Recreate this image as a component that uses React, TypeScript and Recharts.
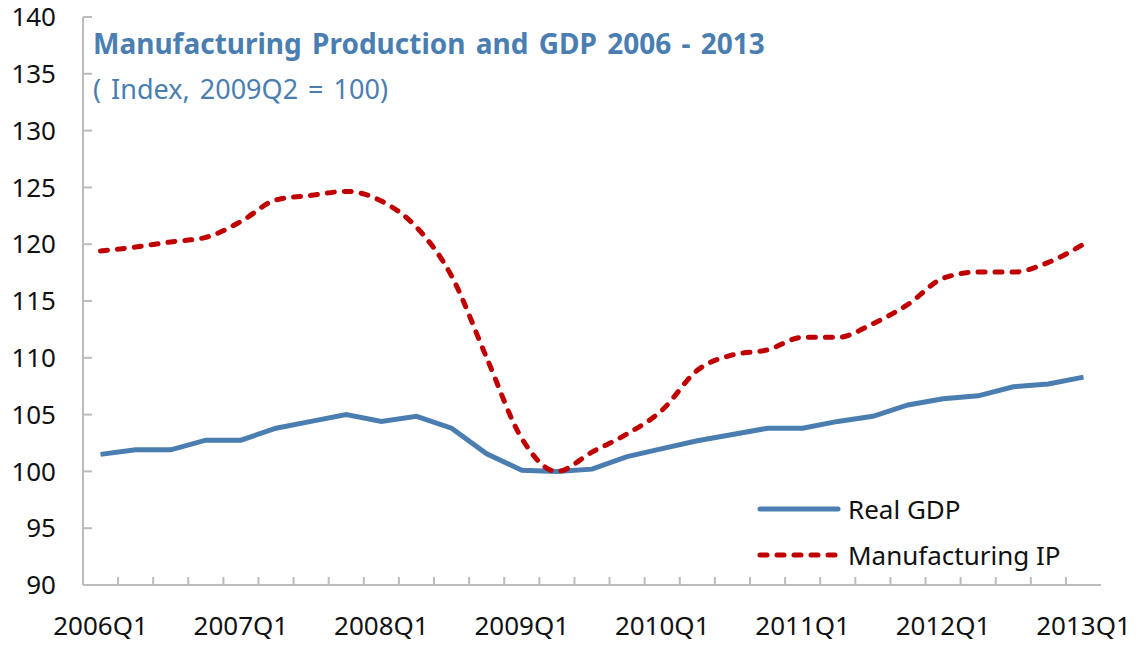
import { LineChart, Line, XAxis, YAxis, Legend } from 'recharts'

// quarterly categories, 2006Q1 .. 2013Q1
const quarters = [
  '2006Q1', '2006Q2', '2006Q3', '2006Q4',
  '2007Q1', '2007Q2', '2007Q3', '2007Q4',
  '2008Q1', '2008Q2', '2008Q3', '2008Q4',
  '2009Q1', '2009Q2', '2009Q3', '2009Q4',
  '2010Q1', '2010Q2', '2010Q3', '2010Q4',
  '2011Q1', '2011Q2', '2011Q3', '2011Q4',
  '2012Q1', '2012Q2', '2012Q3', '2012Q4',
  '2013Q1',
]

const realGdp = [
  101.5, 101.9, 101.9, 102.75, 102.75, 103.8, 104.4, 105.0,
  104.4, 104.85, 103.8, 101.55, 100.1, 100.0, 100.2, 101.3,
  102.0, 102.7, 103.25, 103.8, 103.8, 104.4, 104.85, 105.85,
  106.4, 106.65, 107.45, 107.7, 108.3,
]

const manufacturingIp = [
  119.4, 119.75, 120.2, 120.6, 122.0, 123.9, 124.3, 124.65,
  123.8, 121.5, 117.2, 110.0, 102.9, 100.0, 101.7, 103.3,
  105.4, 108.9, 110.25, 110.7, 111.8, 111.8, 113.0, 114.7,
  117.0, 117.55, 117.55, 118.4, 120.0,
]

const yTicks = [90, 95, 100, 105, 110, 115, 120, 125, 130, 135, 140]

const chartData = quarters.map((quarter, i) => ({
  quarter,
  gdp: realGdp[i],
  ip: manufacturingIp[i],
}))

const FONT = '"Noto Sans", "Open Sans", sans-serif'
const AXIS = '#bcbcbc'
const BLUE = '#4a7eb1'
const RED = '#c00000'

const legendOrder = ['gdp', 'ip']
const seriesStyle: Record<string, { color: string; dash?: string }> = {
  gdp: { color: BLUE },
  ip: { color: RED, dash: '7 10' },
}

// y ticks: small mark pointing into the plot, label to the left
const YTick = ({ x, y, payload }: any) => (
  <g>
    <line x1={x} x2={x + 9} y1={y} y2={y} stroke={AXIS} strokeWidth={2} />
    <text x={x - 27} y={y} dy="0.355em" textAnchor="end" fontSize={26} fill="#111">
      {payload.value}
    </text>
  </g>
)

// x ticks: mark on the boundary after each quarter, label every 4th quarter
const XTick = ({ x, y, payload, index, width }: any) => {
  const step = (width || 1018) / quarters.length
  const bx = x + step / 2
  return (
    <g>
      {index < quarters.length - 1 && (
        <line x1={bx} x2={bx} y1={y} y2={y - 8} stroke={AXIS} strokeWidth={2} />
      )}
      {index % 4 === 0 && (
        <text x={x} y={y + 32} dy="0.71em" textAnchor="middle" fontSize={26} fill="#111">
          {payload.value}
        </text>
      )}
    </g>
  )
}

const LegendRows = ({ payload }: any) => {
  const items = [...(payload || [])].sort(
    (a: any, b: any) => legendOrder.indexOf(a.dataKey) - legendOrder.indexOf(b.dataKey)
  )
  return (
    <div style={{ fontFamily: FONT }}>
      {items.map((entry: any) => {
        const s = seriesStyle[entry.dataKey] || { color: entry.color }
        return (
          <div key={entry.dataKey} style={{ display: 'flex', alignItems: 'center', height: 46 }}>
            <svg width={88} height={12}>
              <line
                x1={4}
                x2={82}
                y1={6}
                y2={6}
                stroke={s.color}
                strokeWidth={5}
                strokeDasharray={s.dash}
                strokeLinecap="round"
              />
            </svg>
            <span style={{ marginLeft: 4, fontSize: 26, color: '#111', whiteSpace: 'nowrap' }}>
              {entry.value}
            </span>
          </div>
        )
      })}
    </div>
  )
}

export default function App() {
  return (
    <div style={{ position: 'absolute', left: 0, top: 0, width: 1146, height: 648, background: '#fff' }}>
      <LineChart
        width={1146}
        height={648}
        data={chartData}
        margin={{ top: 17, right: 45, bottom: 13, left: 23 }}
        style={{ fontFamily: FONT }}
      >
        <XAxis
          dataKey="quarter"
          interval={0}
          height={50}
          padding={{ left: 17.5, right: 17.5 }}
          axisLine={{ stroke: AXIS, strokeWidth: 2 }}
          tickLine={false}
          tickSize={0}
          tickMargin={0}
          tick={<XTick />}
        />
        <XAxis
          xAxisId="top"
          orientation="top"
          height={0}
          tick={false}
          tickLine={false}
          axisLine={{ stroke: AXIS, strokeWidth: 2 }}
        />
        <YAxis
          domain={[90, 140]}
          ticks={yTicks}
          width={60}
          axisLine={{ stroke: AXIS, strokeWidth: 2 }}
          tickLine={false}
          tickSize={0}
          tickMargin={0}
          tick={<YTick />}
        />
        <YAxis
          yAxisId="right"
          orientation="right"
          domain={[90, 140]}
          width={0}
          tick={false}
          tickLine={false}
          axisLine={{ stroke: AXIS, strokeWidth: 2 }}
        />
        <Legend
          layout="vertical"
          align="center"
          verticalAlign="middle"
          content={<LegendRows />}
          wrapperStyle={{ left: 756, top: 486, width: 320 }}
        />
        <Line
          type="linear"
          dataKey="gdp"
          name="Real GDP"
          stroke={BLUE}
          strokeWidth={5}
          dot={false}
          activeDot={false}
          isAnimationActive={false}
        />
        <Line
          type="monotone"
          dataKey="ip"
          name="Manufacturing IP"
          stroke={RED}
          strokeWidth={5}
          strokeDasharray="7 10"
          strokeLinecap="round"
          dot={false}
          activeDot={false}
          isAnimationActive={false}
        />
      </LineChart>
      <div
        style={{
          position: 'absolute',
          left: 93,
          top: 29,
          fontFamily: FONT,
          fontWeight: 700,
          fontSize: 28,
          wordSpacing: 3,
          lineHeight: 1,
          color: BLUE,
          whiteSpace: 'nowrap',
        }}
      >
        Manufacturing Production and GDP 2006 - 2013
      </div>
      <div
        style={{
          position: 'absolute',
          left: 93,
          top: 75,
          fontFamily: FONT,
          fontSize: 27,
          wordSpacing: 3,
          lineHeight: 1,
          color: BLUE,
          whiteSpace: 'nowrap',
        }}
      >
        ( Index, 2009Q2 = 100)
      </div>
    </div>
  )
}
